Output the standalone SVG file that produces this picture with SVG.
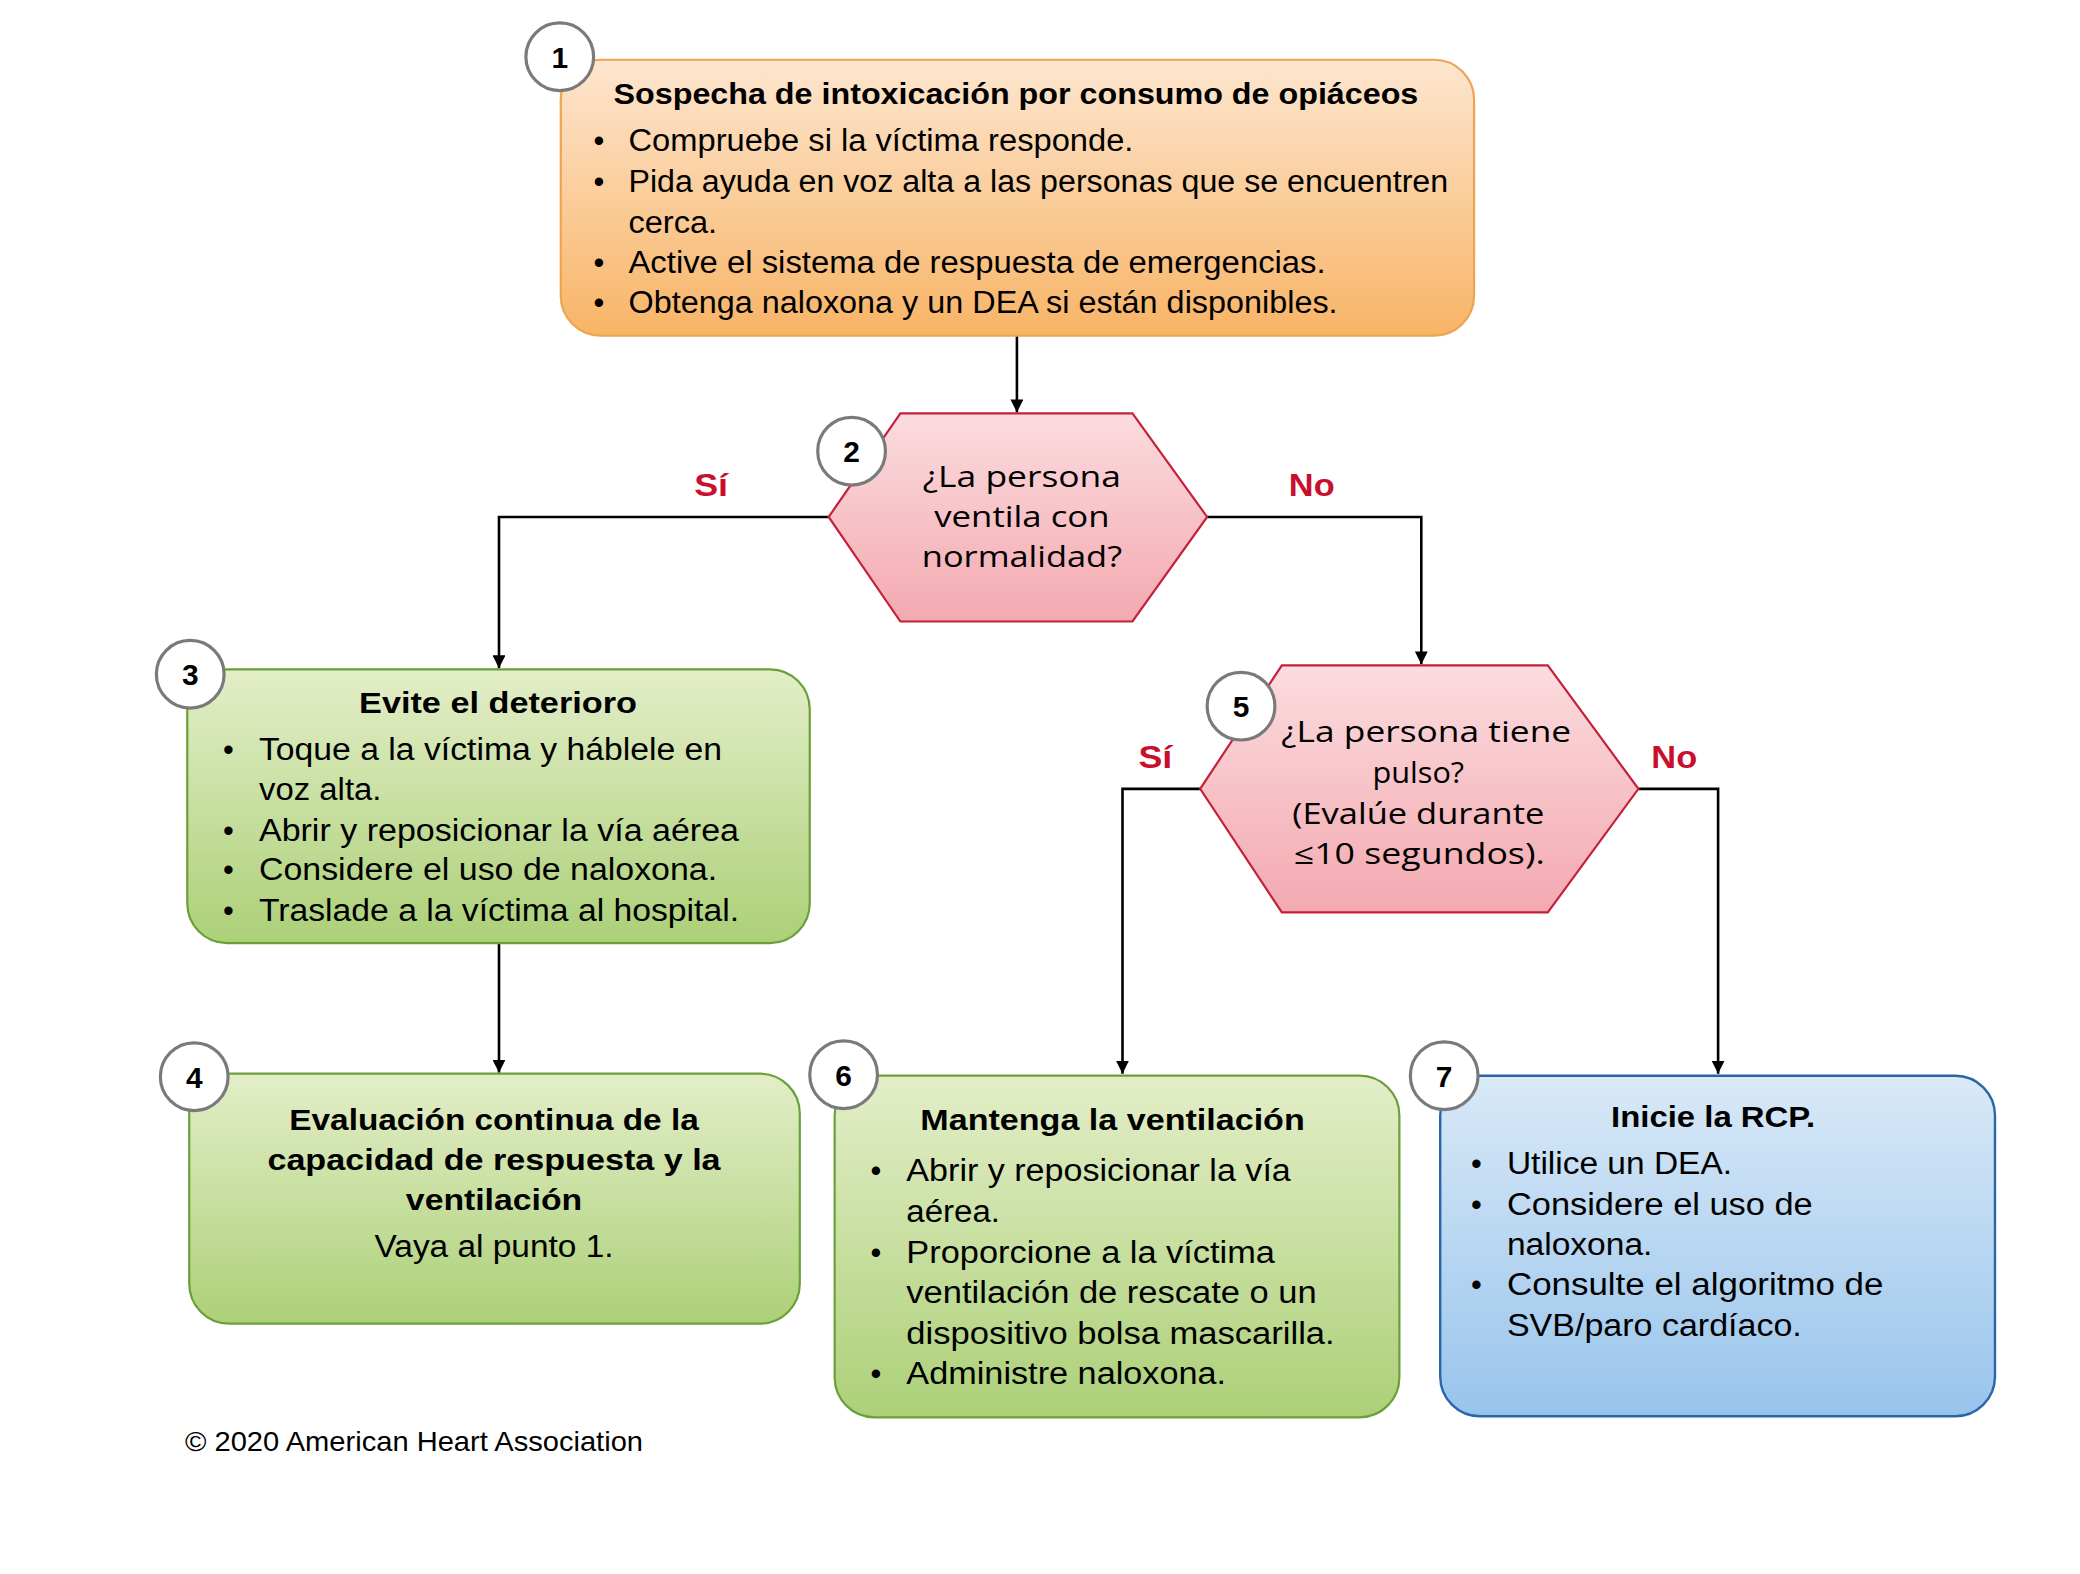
<svg xmlns="http://www.w3.org/2000/svg" width="2080" height="1574" viewBox="0 0 2080 1574">
<defs>
<linearGradient id="gOrange" x1="0" y1="0" x2="0" y2="1"><stop offset="0" stop-color="#fde6cf"/><stop offset="1" stop-color="#f8b466"/></linearGradient>
<linearGradient id="gGreen" x1="0" y1="0" x2="0" y2="1"><stop offset="0" stop-color="#e3eec8"/><stop offset="1" stop-color="#acd078"/></linearGradient>
<linearGradient id="gBlue" x1="0" y1="0" x2="0" y2="1"><stop offset="0" stop-color="#d9e9f7"/><stop offset="1" stop-color="#98c4ec"/></linearGradient>
<linearGradient id="gPink" x1="0" y1="0" x2="0" y2="1"><stop offset="0" stop-color="#fbdcdf"/><stop offset="1" stop-color="#f3a9b0"/></linearGradient>
<marker id="arr" viewBox="0 0 10 10" refX="10" refY="5" markerWidth="5" markerHeight="5" orient="auto" markerUnits="strokeWidth"><path d="M0,0 L10,5 L0,10 z" fill="#000"/></marker>
<style>
.conn{fill:none;stroke:#000;stroke-width:2.6}
.orange{fill:url(#gOrange);stroke:#eda451;stroke-width:2.2}
.green{fill:url(#gGreen);stroke:#6b9f3a;stroke-width:2.2}
.blue{fill:url(#gBlue);stroke:#2a66a6;stroke-width:2.4}
.pink{fill:url(#gPink);stroke:#c4213b;stroke-width:2.2}
.num{fill:#fff;stroke:#7a7a7a;stroke-width:3.2}
.numt{font-family:"Liberation Sans",Arial,sans-serif;font-weight:bold;font-size:30px;fill:#000;text-anchor:middle}
.t{font-family:"Liberation Sans",Arial,sans-serif;font-size:31px;fill:#000}
.tb{font-family:"Liberation Sans",Arial,sans-serif;font-size:30px;font-weight:bold;fill:#000}
.c{text-anchor:middle}
.q{font-family:"Open Sans","Noto Sans",sans-serif;font-size:29px;fill:#000;text-anchor:middle}
.lab{font-family:"Liberation Sans",Arial,sans-serif;font-size:31px;font-weight:bold;fill:#c8102e;text-anchor:middle}
</style>
</defs>
<rect width="2080" height="1574" fill="#fff"/>

<g id="diagram" transform="scale(0.996)">
<g id="connectors">
<path class="conn" d="M1021,337 V414" marker-end="url(#arr)"/>
<path class="conn" d="M832,519 H501 V671" marker-end="url(#arr)"/>
<path class="conn" d="M1212,519 H1427 V667" marker-end="url(#arr)"/>
<path class="conn" d="M501,947 V1077" marker-end="url(#arr)"/>
<path class="conn" d="M1205,792 H1127 V1078" marker-end="url(#arr)"/>
<path class="conn" d="M1645,792 H1725 V1078" marker-end="url(#arr)"/>
<text class="lab" x="714" y="498" textLength="34" lengthAdjust="spacingAndGlyphs">Sí</text>
<text class="lab" x="1317" y="498" textLength="46" lengthAdjust="spacingAndGlyphs">No</text>
<text class="lab" x="1160" y="771" textLength="34" lengthAdjust="spacingAndGlyphs">Sí</text>
<text class="lab" x="1681" y="771" textLength="46" lengthAdjust="spacingAndGlyphs">No</text>
</g>

<g id="node1">
<rect class="orange" x="563" y="60" width="917" height="277" rx="40"/>
<circle class="num" cx="562" cy="57" r="34"/>
<text class="numt" x="562" y="68">1</text>
<text class="tb c" x="1020" y="104" textLength="808" lengthAdjust="spacingAndGlyphs">Sospecha de intoxicación por consumo de opiáceos</text>
<text class="t" x="596" y="152">•</text>
<text class="t" x="631" y="152" textLength="507" lengthAdjust="spacingAndGlyphs">Compruebe si la víctima responde.</text>
<text class="t" x="596" y="193">•</text>
<text class="t" x="631" y="193" textLength="823" lengthAdjust="spacingAndGlyphs">Pida ayuda en voz alta a las personas que se encuentren</text>
<text class="t" x="631" y="234" textLength="89" lengthAdjust="spacingAndGlyphs">cerca.</text>
<text class="t" x="596" y="274">•</text>
<text class="t" x="631" y="274" textLength="700" lengthAdjust="spacingAndGlyphs">Active el sistema de respuesta de emergencias.</text>
<text class="t" x="596" y="314">•</text>
<text class="t" x="631" y="314" textLength="712" lengthAdjust="spacingAndGlyphs">Obtenga naloxona y un DEA si están disponibles.</text>
</g>

<g id="node2">
<polygon class="pink" points="904,415 1137,415 1212,519 1137,624 904,624 832,519"/>
<circle class="num" cx="855" cy="453" r="34"/>
<text class="numt" x="855" y="464">2</text>
<text class="q" x="1026" y="489" textLength="199" lengthAdjust="spacingAndGlyphs">¿La persona</text>
<text class="q" x="1026" y="529" textLength="176" lengthAdjust="spacingAndGlyphs">ventila con</text>
<text class="q" x="1026" y="569" textLength="201" lengthAdjust="spacingAndGlyphs">normalidad?</text>
</g>

<g id="node3">
<rect class="green" x="188" y="672" width="625" height="275" rx="40"/>
<circle class="num" cx="191" cy="677" r="34"/>
<text class="numt" x="191" y="688">3</text>
<text class="tb c" x="500" y="716" textLength="279" lengthAdjust="spacingAndGlyphs">Evite el deterioro</text>
<text class="t" x="224" y="763">•</text>
<text class="t" x="260" y="763" textLength="465" lengthAdjust="spacingAndGlyphs">Toque a la víctima y háblele en</text>
<text class="t" x="260" y="803" textLength="123" lengthAdjust="spacingAndGlyphs">voz alta.</text>
<text class="t" x="224" y="844">•</text>
<text class="t" x="260" y="844" textLength="482" lengthAdjust="spacingAndGlyphs">Abrir y reposicionar la vía aérea</text>
<text class="t" x="224" y="884">•</text>
<text class="t" x="260" y="884" textLength="460" lengthAdjust="spacingAndGlyphs">Considere el uso de naloxona.</text>
<text class="t" x="224" y="925">•</text>
<text class="t" x="260" y="925" textLength="482" lengthAdjust="spacingAndGlyphs">Traslade a la víctima al hospital.</text>
</g>

<g id="node4">
<rect class="green" x="190" y="1078" width="613" height="251" rx="40"/>
<circle class="num" cx="195" cy="1081" r="34"/>
<text class="numt" x="195" y="1092">4</text>
<text class="tb c" x="496" y="1135" textLength="411" lengthAdjust="spacingAndGlyphs">Evaluación continua de la</text>
<text class="tb c" x="496" y="1175" textLength="455" lengthAdjust="spacingAndGlyphs">capacidad de respuesta y la</text>
<text class="tb c" x="496" y="1215" textLength="177" lengthAdjust="spacingAndGlyphs">ventilación</text>
<text class="t c" x="496" y="1262" textLength="240" lengthAdjust="spacingAndGlyphs">Vaya al punto 1.</text>
</g>

<g id="node5">
<polygon class="pink" points="1287,668 1554,668 1645,792 1554,916 1287,916 1205,792"/>
<circle class="num" cx="1246" cy="709" r="34"/>
<text class="numt" x="1246" y="720">5</text>
<text class="q" x="1432" y="745" textLength="291" lengthAdjust="spacingAndGlyphs">¿La persona tiene</text>
<text class="q" x="1424" y="786" textLength="92" lengthAdjust="spacingAndGlyphs">pulso?</text>
<text class="q" x="1424" y="827" textLength="253" lengthAdjust="spacingAndGlyphs">(Evalúe durante</text>
<text class="q" x="1425" y="867" textLength="252" lengthAdjust="spacingAndGlyphs">≤10 segundos).</text>
</g>

<g id="node6">
<rect class="green" x="838" y="1080" width="567" height="343" rx="40"/>
<circle class="num" cx="847" cy="1079" r="34"/>
<text class="numt" x="847" y="1090">6</text>
<text class="tb c" x="1117" y="1135" textLength="386" lengthAdjust="spacingAndGlyphs">Mantenga la ventilación</text>
<text class="t" x="874" y="1186">•</text>
<text class="t" x="910" y="1186" textLength="386" lengthAdjust="spacingAndGlyphs">Abrir y reposicionar la vía</text>
<text class="t" x="910" y="1227" textLength="94" lengthAdjust="spacingAndGlyphs">aérea.</text>
<text class="t" x="874" y="1268">•</text>
<text class="t" x="910" y="1268" textLength="370" lengthAdjust="spacingAndGlyphs">Proporcione a la víctima</text>
<text class="t" x="910" y="1308" textLength="412" lengthAdjust="spacingAndGlyphs">ventilación de rescate o un</text>
<text class="t" x="910" y="1349" textLength="430" lengthAdjust="spacingAndGlyphs">dispositivo bolsa mascarilla.</text>
<text class="t" x="874" y="1390">•</text>
<text class="t" x="910" y="1390" textLength="321" lengthAdjust="spacingAndGlyphs">Administre naloxona.</text>
</g>

<g id="node7">
<rect class="blue" x="1446" y="1080" width="557" height="342" rx="40"/>
<circle class="num" cx="1450" cy="1080" r="34"/>
<text class="numt" x="1450" y="1091">7</text>
<text class="tb c" x="1720" y="1132" textLength="205" lengthAdjust="spacingAndGlyphs">Inicie la RCP.</text>
<text class="t" x="1477" y="1179">•</text>
<text class="t" x="1513" y="1179" textLength="226" lengthAdjust="spacingAndGlyphs">Utilice un DEA.</text>
<text class="t" x="1477" y="1220">•</text>
<text class="t" x="1513" y="1220" textLength="307" lengthAdjust="spacingAndGlyphs">Considere el uso de</text>
<text class="t" x="1513" y="1260" textLength="146" lengthAdjust="spacingAndGlyphs">naloxona.</text>
<text class="t" x="1477" y="1300">•</text>
<text class="t" x="1513" y="1300" textLength="378" lengthAdjust="spacingAndGlyphs">Consulte el algoritmo de</text>
<text class="t" x="1513" y="1341" textLength="296" lengthAdjust="spacingAndGlyphs">SVB/paro cardíaco.</text>
</g>
</g>

<g id="footer">
<text class="t" x="185" y="1451" style="font-size:28px" textLength="458" lengthAdjust="spacingAndGlyphs">© 2020 American Heart Association</text>
</g>
</svg>
